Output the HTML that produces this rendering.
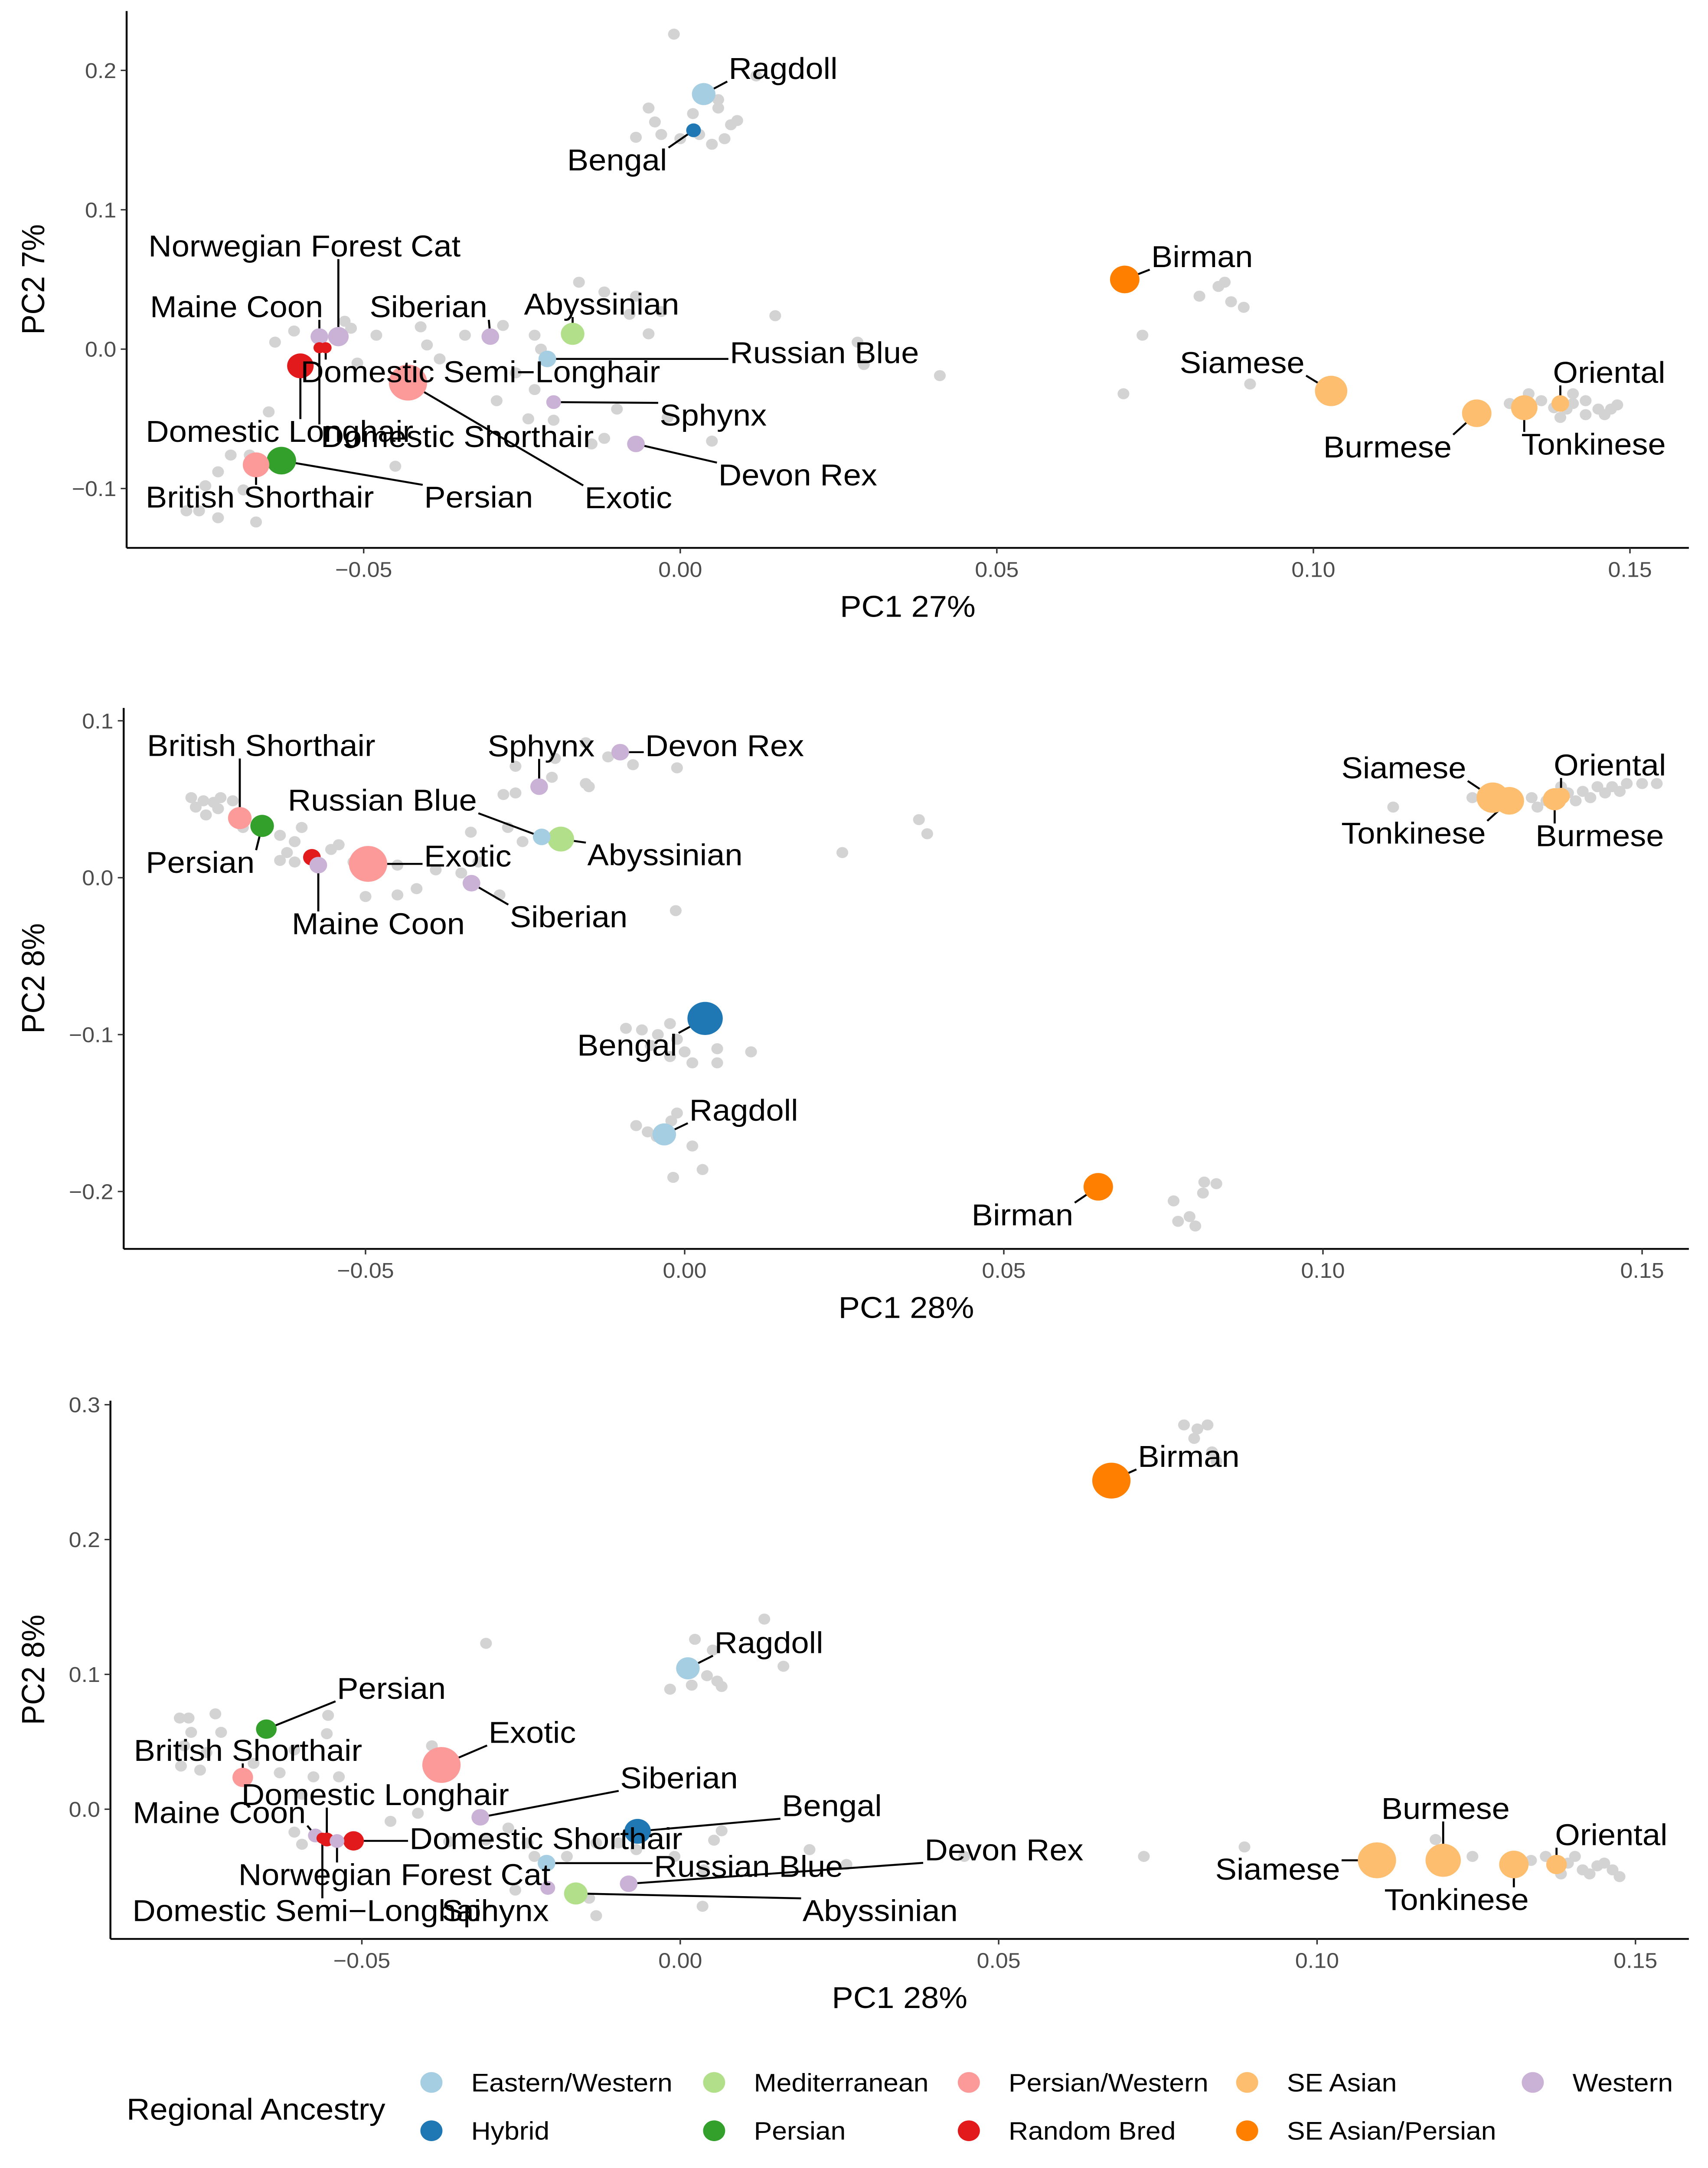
<!DOCTYPE html>
<html><head><meta charset="utf-8"><style>
html,body{margin:0;padding:0;background:#fff;overflow:hidden;width:100vw;height:100vh;}
svg{display:block;position:fixed;left:0;top:0;width:100vw;height:100vh;font-family:"Liberation Sans",Arial,sans-serif;}
</style></head><body>
<svg id="chart" viewBox="0 0 1160 1571" preserveAspectRatio="none" xmlns="http://www.w3.org/2000/svg">
<rect x="0" y="0" width="1160" height="1571" fill="#fff"/>
</svg>
<script>
const groupColors = {"Eastern/Western":"#a6cee3","Hybrid":"#1f78b4","Mediterranean":"#b2df8a","Persian":"#33a02c","Persian/Western":"#fb9a99","Random Bred":"#e31a1c","SE Asian":"#fdbf6f","SE Asian/Persian":"#ff7f00","Western":"#cab2d6"};
const legendGroups = ["Eastern/Western","Mediterranean","Persian/Western","SE Asian","Western","Hybrid","Persian","Random Bred","SE Asian/Persian"];

// ---------- Panel 1 data ----------
const p1GrayX = [-0.001,0.012,-0.005,-0.004,0.002,0.006,0.008,0.007,0.003,0.005,0.000,-0.003,-0.007,0.006,0.009,
-0.064,-0.061,-0.052,-0.048,-0.041,-0.040,-0.034,-0.028,-0.023,-0.022,-0.016,-0.012,-0.007,-0.008,-0.005,-0.003,-0.026,-0.023,-0.024,-0.020,-0.014,-0.012,0.005,-0.002,-0.010,0.015,0.028,0.041,0.029,-0.038,-0.053,-0.065,-0.068,-0.071,-0.073,-0.075,-0.076,-0.073,-0.067,-0.069,-0.062,-0.078,-0.045,-0.051,-0.029,
0.082,0.085,0.086,0.087,0.089,0.090,0.073,0.070,
0.134,0.136,0.138,0.140,0.143,0.145,0.147,0.148,0.141,0.131,0.143,0.146,0.139,0.141];
const p1GrayY = [0.226,0.196,0.173,0.163,0.169,0.179,0.161,0.151,0.154,0.147,0.151,0.154,0.152,0.173,0.164,
0.005,0.013,0.015,0.010,0.016,0.003,0.010,0.017,0.010,0.000,0.048,0.041,0.038,0.025,0.011,0.027,-0.017,-0.029,-0.050,-0.051,-0.068,-0.064,-0.066,-0.049,-0.043,0.024,0.005,-0.019,-0.011,-0.007,0.020,-0.045,-0.076,-0.076,-0.088,-0.098,-0.116,-0.121,-0.124,-0.101,-0.084,-0.116,-0.084,-0.010,-0.037,
0.038,0.045,0.048,0.034,0.030,-0.025,0.010,-0.032,
-0.032,-0.037,-0.042,-0.043,-0.047,-0.043,-0.043,-0.040,-0.032,-0.039,-0.037,-0.047,-0.049,-0.039];
const p1Names = ["Exotic","Birman","Siamese","Burmese","Tonkinese","Persian","British Shorthair","Domestic Longhair","Ragdoll","Abyssinian","Norwegian Forest Cat","Maine Coon","Siberian","Russian Blue","Devon Rex","Oriental","Bengal","Sphynx","Domestic Semi\u2212Longhair","Domestic Shorthair"];
const p1X = [-0.043,0.0702,0.1028,0.1258,0.1333,-0.063,-0.067,-0.060,0.0037,-0.017,-0.054,-0.057,-0.030,-0.021,-0.007,0.139,0.0021,-0.020,-0.056,-0.057];
const p1Y = [-0.024,0.050,-0.030,-0.046,-0.042,-0.080,-0.083,-0.012,0.183,0.011,0.009,0.009,0.009,-0.007,-0.068,-0.039,0.157,-0.038,0.001,0.001];
const p1Group = ["Persian/Western","SE Asian/Persian","SE Asian","SE Asian","SE Asian","Persian","Persian/Western","Random Bred","Eastern/Western","Mediterranean","Western","Western","Western","Eastern/Western","Western","SE Asian","Hybrid","Western","Random Bred","Random Bred"];
const p1Size = [13,10,11,10,9,10,9,9,8,8,7,6,6,6,6,6,5,5,4,4];
const p1LabelDx = [120,18,-18,-17,-2,97,-75,-105,17,-33,-129,-115,-82,124,56,-5,-18,72,-17,1];
const p1LabelDy = [83,-17,-21,24,26,26,23,47,-19,-22,-66,-22,-22,-5,22,-23,21,9,17,64];
const p1Anchor = ["start","start","end","end","start","start","start","start","start","start","start","start","start","start","start","start","end","start","start","start"];

// ---------- Panel 2 data ----------
const p2GrayX = [-0.0773,-0.0754,-0.0738,-0.0727,-0.0708,-0.0766,-0.075,-0.0731,-0.0692,-0.0634,-0.0611,-0.060,-0.0623,-0.0634,-0.0611,-0.0542,-0.0519,-0.050,-0.045,-0.042,-0.039,-0.0335,-0.0323,-0.0277,-0.0254,-0.0284,-0.0265,-0.0208,-0.0265,-0.0203,-0.0155,-0.0155,-0.015,-0.0081,-0.012,-0.0012,-0.0014,0.0247,0.0367,0.038,-0.035,-0.029,-0.045,-0.0554,
-0.0092,-0.0067,-0.0023,-0.0042,-0.0012,-0.0023,0.0,0.0051,0.0051,0.0104,0.0012,-0.0053,
-0.0076,-0.0058,-0.0044,-0.0021,-0.0012,0.0012,-0.0018,0.0028,
0.0766,0.0773,0.0791,0.080,0.0814,0.0833,0.0812,
0.111,0.1234,0.1336,0.135,0.1384,0.1407,0.143,0.1453,0.1476,0.150,0.1523,0.1396,0.1419,0.1442,0.1465,0.1373,0.1327];
const p2GrayY = [0.051,0.049,0.048,0.051,0.049,0.045,0.040,0.044,0.032,0.027,0.023,0.032,0.016,0.011,0.010,0.021,0.010,-0.012,-0.011,-0.007,0.005,0.029,0.010,0.032,0.023,0.053,0.054,0.064,0.071,0.076,0.086,0.060,0.058,0.072,0.077,0.070,-0.021,0.016,0.037,0.028,0.003,-0.011,0.008,0.018,
-0.096,-0.097,-0.093,-0.100,-0.103,-0.114,-0.111,-0.109,-0.118,-0.111,-0.118,-0.107,
-0.158,-0.162,-0.165,-0.155,-0.150,-0.171,-0.191,-0.186,
-0.206,-0.219,-0.216,-0.222,-0.194,-0.195,-0.201,
0.045,0.051,0.045,0.049,0.054,0.055,0.058,0.058,0.060,0.060,0.060,0.049,0.051,0.054,0.055,0.058,0.051];
const p2Names = ["Exotic","Bengal","Siamese","Tonkinese","Birman","Abyssinian","British Shorthair","Persian","Burmese","Ragdoll","","Maine Coon","Russian Blue","Sphynx","Devon Rex","Siberian","Oriental"];
const p2X = [-0.0496,0.0032,0.1266,0.1292,0.0648,-0.0194,-0.0697,-0.0662,0.1363,-0.0032,-0.0584,-0.0574,-0.0224,-0.0228,-0.0101,-0.0334,0.1373];
const p2Y = [0.0088,-0.0897,0.051,0.049,-0.197,0.0246,0.038,0.033,0.050,-0.1636,0.013,0.008,0.026,0.058,0.080,-0.0035,0.052];
const p2Group = ["Persian/Western","Hybrid","SE Asian","SE Asian","SE Asian/Persian","Mediterranean","Persian/Western","Persian","SE Asian","Eastern/Western","Random Bred","Western","Eastern/Western","Western","Western","Western","SE Asian"];
const p2Size = [13,12,11,10,10,9,8,8,8,8,6,6,6,6,6,6,6];
const p2LabelDx = [38,-19,-18,-16,-17,18,-63,-79,-13,17,0,-18,-44,-35,17,26,-5];
const p2LabelDy = [-6,19,-22,23,20,11,-53,26,26,-18,0,42,-27,-30,-5,24,-23];
const p2Anchor = ["start","end","end","end","end","start","start","start","start","start","start","start","end","start","start","start","start"];

// ---------- Panel 3 data ----------
const p3GrayX = [0.0791,0.0812,0.0828,0.0807,0.0835,0.0842,
-0.0305,0.0023,0.0051,0.0132,0.0162,0.0042,0.0018,-0.0016,0.0058,0.0065,
-0.0786,-0.0772,-0.073,-0.0768,-0.0721,-0.0779,-0.0744,-0.067,-0.0784,-0.0754,-0.0629,-0.0576,-0.0553,-0.0555,-0.0606,-0.0536,-0.039,-0.0384,-0.0594,-0.0606,-0.0594,-0.0455,-0.0412,-0.0363,-0.0305,-0.027,-0.024,-0.0229,-0.0178,-0.0132,-0.0097,-0.0069,0.0037,0.0053,0.0065,-0.0009,-0.0132,0.0035,-0.0143,-0.0259,0.0261,0.0446,0.0203,
0.0728,0.0886,0.1186,0.1244,0.1336,0.1359,0.1394,0.1417,0.144,0.1464,0.1475,0.1405,0.1428,0.1451,0.1383,0.1313];
const p3GrayY = [0.285,0.282,0.285,0.275,0.265,0.258,
0.123,0.126,0.118,0.141,0.106,0.099,0.092,0.089,0.095,0.091,
0.0676,0.0676,0.0707,0.057,0.057,0.047,0.042,0.034,0.032,0.029,0.027,0.024,0.0696,0.056,0.044,0.024,0.047,0.034,0.011,-0.017,-0.026,-0.009,-0.003,-0.024,-0.023,-0.014,-0.025,-0.035,-0.035,-0.025,-0.025,-0.030,-0.045,-0.023,-0.016,-0.035,-0.079,-0.072,-0.066,-0.060,-0.041,-0.035,-0.030,
-0.035,-0.028,-0.0225,-0.035,-0.038,-0.035,-0.040,-0.045,-0.042,-0.045,-0.050,-0.035,-0.048,-0.040,-0.048,-0.045];
const p3Names = ["Birman","Exotic","Siamese","Burmese","Tonkinese","Bengal","Ragdoll","Abyssinian","Persian","British Shorthair","Domestic Shorthair","Oriental","Siberian","Russian Blue","Devon Rex","Sphynx","Maine Coon","Domestic Longhair","Norwegian Forest Cat","Domestic Semi\u2212Longhair"];
const p3X = [0.0677,-0.0375,0.1094,0.1198,0.1309,-0.0067,0.0012,-0.0164,-0.065,-0.0687,-0.0513,0.1376,-0.0314,-0.021,-0.0081,-0.0208,-0.0573,-0.0555,-0.0539,-0.0562];
const p3Y = [0.2437,0.0328,-0.0379,-0.0379,-0.041,-0.0164,0.1045,-0.0625,0.0594,0.0236,-0.0235,-0.041,-0.006,-0.040,-0.0553,-0.0584,-0.0195,-0.0225,-0.0236,-0.0215];
const p3Group = ["SE Asian/Persian","Persian/Western","SE Asian","SE Asian","SE Asian","Hybrid","Eastern/Western","Mediterranean","Persian","Persian/Western","Random Bred","SE Asian","Western","Eastern/Western","Western","Western","Western","Random Bred","Western","Random Bred"];
const p3Size = [13,13,13,12,10,9,8,8,7,7,7,7,6,6,6,5,5,5,5,4];
const p3LabelDx = [18,32,-25,-42,-88,98,18,154,48,-74,38,-1,95,73,201,-72,-124,-58,-67,-129];
const p3LabelDy = [-18,-24,6,-38,25,-19,-19,12,-30,-20,-2,-22,-29,2,-25,16,-17,-33,24,52];
const p3Anchor = ["start","start","end","start","start","start","start","start","start","start","start","start","start","start","start","start","start","start","start","start"];

// ---------- axis config ----------
const xTickVals = [-0.05,0,0.05,0.10,0.15];
const xTickLabels = ["\u22120.05","0.00","0.05","0.10","0.15"];
const p1YTickVals = [-0.1,0,0.1,0.2];
const p1YTickLabels = ["\u22120.1","0.0","0.1","0.2"];
const p2YTickVals = [-0.2,-0.1,0,0.1];
const p2YTickLabels = ["\u22120.2","\u22120.1","0.0","0.1"];
const p3YTickVals = [0,0.1,0.2,0.3];
const p3YTickLabels = ["0.0","0.1","0.2","0.3"];

const LABEL_FS = 21.8, TICK_FS = 15.3, TITLE_FS = 21.8, LEG_FS = 18.4;

const svg = document.getElementById('chart');
const NS = "http://www.w3.org/2000/svg";
function mk(tag, attrs, parent){
  const e = document.createElementNS(NS, tag);
  for (const k in attrs) e.setAttribute(k, attrs[k]);
  (parent||svg).appendChild(e);
  return e;
}

function drawPanel(id, cfg, gx, gy, names, xs, ys, groups, sizes, ldx, ldy, anch, yTv, yTl, xTitle, yTitle){
  const g = mk('g', {});
  
  
  const sx = v => cfg.x0 + v*cfg.kx;
  const sy = v => cfg.y0 - v*cfg.ky;
  const yax = mk('line', {x1:cfg.axX, y1:cfg.top, x2:cfg.axX, y2:cfg.axY, stroke:'#000','stroke-width':1.3}, g);
  
  
  const xax = mk('line', {x1:cfg.axX, y1:cfg.axY, x2:1147, y2:cfg.axY, stroke:'#000','stroke-width':1.3}, g);
  
  
  xTickVals.forEach((v,i)=>{
    const px = sx(v);
    const t = mk('line', {x1:px, y1:cfg.axY, x2:px, y2:cfg.axY+4, stroke:'#333','stroke-width':1}, g);
    
    
    const tl = mk('text', {x:px, y:cfg.axY+21, 'text-anchor':'middle', 'font-size':TICK_FS, fill:'#4d4d4d'}, g);
    
    
    tl.textContent = xTickLabels[i];
  });
  yTv.forEach((v,i)=>{
    const py = sy(v);
    const t = mk('line', {x1:cfg.axX-4, y1:py, x2:cfg.axX, y2:py, stroke:'#333','stroke-width':1}, g);
    
    
    const tl = mk('text', {x:cfg.axX-7, y:py+5.5, 'text-anchor':'end', 'font-size':TICK_FS, fill:'#4d4d4d'}, g);
    
    
    tl.textContent = yTl[i];
  });
  const xt = mk('text', {x:(cfg.axX+1147)/2, y:cfg.axY+50, 'text-anchor':'middle', 'font-size':TITLE_FS, fill:'#000'}, g);
  
  
  xt.textContent = xTitle;
  const ym = (cfg.top+cfg.axY)/2;
  const yt = mk('text', {x:0, y:0, transform:`translate(30,${ym}) rotate(-90)`, 'text-anchor':'middle', 'font-size':TITLE_FS, fill:'#000'}, g);
  
  
  yt.textContent = yTitle;
  gx.forEach((v,i)=>{
    const c = mk('circle', {cx:sx(v), cy:sy(gy[i]), r:4, fill:'#d3d3d3'}, g);
    
    
  });
  const segG = mk('g', {}, g);
  
  
  const ptG = mk('g', {}, g);
  
  
  const lblG = mk('g', {}, g);
  
  
  xs.forEach((v,i)=>{
    const px = sx(v), py = sy(ys[i]);
    const c = mk('circle', {cx:px, cy:py, r:sizes[i], fill:groupColors[groups[i]]}, ptG);
    
    
    if (!names[i]) return;
    const lx = px + ldx[i], ly = py + ldy[i];
    const t = mk('text', {x:lx, y:ly+8, 'text-anchor':anch[i], 'font-size':LABEL_FS, fill:'#000'}, lblG);
    
    
    t.textContent = names[i];
    let bb; try { bb = t.getBBox(); } catch(e) { bb = null; }
    if (!bb || !bb.width) {
      const w = names[i].length*11;
      bb = {x: anch[i]==='end' ? lx-w : lx, y: ly-11, width:w, height:22};
    }
    const cx = Math.max(bb.x-1, Math.min(px, bb.x+bb.width+1));
    const cy = Math.max(bb.y+3, Math.min(py, bb.y+bb.height-3));
    const d = Math.hypot(cx-px, cy-py);
    if (d > sizes[i] + 3) {
      const s = mk('line', {x1:px, y1:py, x2:cx, y2:cy, stroke:'#000','stroke-width':1.4}, segG);
      
      
    }
  });
}

drawPanel('panel-top', {x0:462, kx:4300, y0:253, ky:1010, axX:86, top:8, axY:397},
  p1GrayX, p1GrayY, p1Names, p1X, p1Y, p1Group, p1Size, p1LabelDx, p1LabelDy, p1Anchor, p1YTickVals, p1YTickLabels, 'PC1 27%', 'PC2 7%');
drawPanel('panel-middle', {x0:465, kx:4335, y0:636, ky:1137, axX:84, top:513, axY:905},
  p2GrayX, p2GrayY, p2Names, p2X, p2Y, p2Group, p2Size, p2LabelDx, p2LabelDy, p2Anchor, p2YTickVals, p2YTickLabels, 'PC1 28%', 'PC2 8%');
drawPanel('panel-bottom', {x0:462, kx:4325, y0:1311, ky:977, axX:75, top:1015, axY:1405},
  p3GrayX, p3GrayY, p3Names, p3X, p3Y, p3Group, p3Size, p3LabelDx, p3LabelDy, p3Anchor, p3YTickVals, p3YTickLabels, 'PC1 28%', 'PC2 8%');

const lg = mk('g', {});


const lt = mk('text', {x:86, y:1536, 'font-size':TITLE_FS, fill:'#000'}, lg);


lt.textContent = 'Regional Ancestry';
const legCols = [293,485,658,847,1041];
legendGroups.forEach((gname,i)=>{
  const col = i<5 ? i : i-5;
  const row = i<5 ? 0 : 1;
  const cx = legCols[col], cy = 1509 + row*35;
  const c = mk('circle', {cx:cx, cy:cy, r:7.5, fill:groupColors[gname]}, lg);
  
  
  const t = mk('text', {x:cx+27, y:cy+6.5, 'font-size':LEG_FS, fill:'#000'}, lg);
  
  
  t.textContent = gname;
});
</script>
</body></html>
